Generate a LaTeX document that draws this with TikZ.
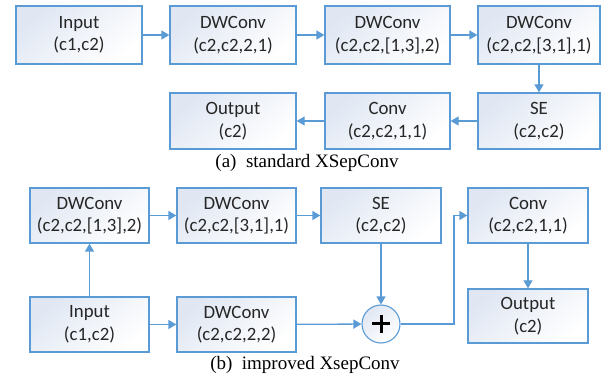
\documentclass[tikz,border=0pt]{standalone}
\usepackage{fontspec}
\setmainfont{Liberation Serif}
\newfontfamily\boxfont{Carlito}
\usetikzlibrary{arrows.meta}
\definecolor{edgeblue}{RGB}{91,155,213}
\definecolor{fillblue}{RGB}{224,231,243}
\definecolor{boxtext}{RGB}{38,38,38}
\tikzset{
  blk/.style={draw=edgeblue, line width=1.3pt, inner sep=0pt,
    top color=fillblue, bottom color=white, shading angle=40,
    align=center, text=boxtext, font=\boxfont\fontsize{18.8}{22.5}\selectfont},
  wa/.style={minimum width=126pt, minimum height=58pt},
  wb/.style={minimum width=119pt, minimum height=55pt},
  flow/.style={draw=edgeblue, line width=1.3pt,
    -{Triangle[length=8pt,width=9pt]}},
  subcaption/.style={font=\fontsize{19}{22}\selectfont, inner sep=0pt},
  sum/.style={circle, draw=edgeblue, line width=1.1pt, minimum size=38pt,
    top color=fillblue, bottom color=white, shading angle=40, inner sep=0pt}
}
\begin{document}
\begin{tikzpicture}[x=1pt, y=-1pt]
\useasboundingbox (0,0) rectangle (608,379);

% (a) standard block
\node[blk, wa] (inA) at (79,35) {Input\\(c1,c2)};
\node[blk, wa] (dw1A) at (233,35) {DWConv\\(c2,c2,2,1)};
\node[blk, wa, minimum width=125pt] (dw2A) at (387.5,35) {DWConv\\(c2,c2,[1,3],2)};
\node[blk, wa, minimum width=122pt] (dw3A) at (539,35) {DWConv\\(c2,c2,[3,1],1)};
\node[blk, wa, minimum width=122pt, minimum height=56pt] (seA) at (539,121) {SE\\(c2,c2)};
\node[blk, wa, minimum width=125pt, minimum height=56pt] (convA) at (387.5,121) {Conv\\(c2,c2,1,1)};
\node[blk, wa, minimum height=56pt] (outA) at (233,121) {Output\\(c2)};
\node[subcaption] (capA) at (307,163) {(a)\ \ standard XSepConv};

\draw[flow] (inA) -- (dw1A);
\draw[flow] (dw1A) -- (dw2A);
\draw[flow] (dw2A) -- (dw3A);
\draw[flow] (dw3A) -- (seA);
\draw[flow] (seA) -- (convA);
\draw[flow] (convA) -- (outA);

% (b) improved block
\node[blk, wb] (dwaB) at (89.5,215.5) {DWConv\\(c2,c2,[1,3],2)};
\node[blk, wb] (dwbB) at (236.5,215.5) {DWConv\\(c2,c2,[3,1],1)};
\node[blk, wb, minimum width=120pt] (seB) at (381,215.5) {SE\\(c2,c2)};
\node[blk, wb, minimum width=120pt] (convB) at (528,215.5) {Conv\\(c2,c2,1,1)};
\node[blk, wb] (inB) at (89.5,324.5) {Input\\(c1,c2)};
\node[blk, wb] (dwcB) at (236.5,324.5) {DWConv\\(c2,c2,2,2)};
\node[sum] (plusB) at (381,324) {};
\draw[line width=3pt] ([xshift=-9pt]plusB.center) -- ([xshift=9pt]plusB.center)
  ([yshift=-9pt]plusB.center) -- ([yshift=9pt]plusB.center);
\node[blk, wb, minimum width=120pt, minimum height=54pt] (outB) at (528,316) {Output\\(c2)};
\node[subcaption] (capB) at (305,365) {(b)\ \ improved XsepConv};
\coordinate (bendB) at (454,324);

\draw[flow] (inB) -- (dwaB);
\draw[flow] (dwaB) -- (dwbB);
\draw[flow] (dwbB) -- (seB);
\draw[flow] (inB) -- (dwcB);
\draw[flow] (dwcB) -- (plusB);
\draw[flow] (seB) -- (plusB);
\draw[flow] (plusB) -- (bendB) |- (convB);
\draw[flow] (convB) -- (outB);
\end{tikzpicture}
\end{document}
